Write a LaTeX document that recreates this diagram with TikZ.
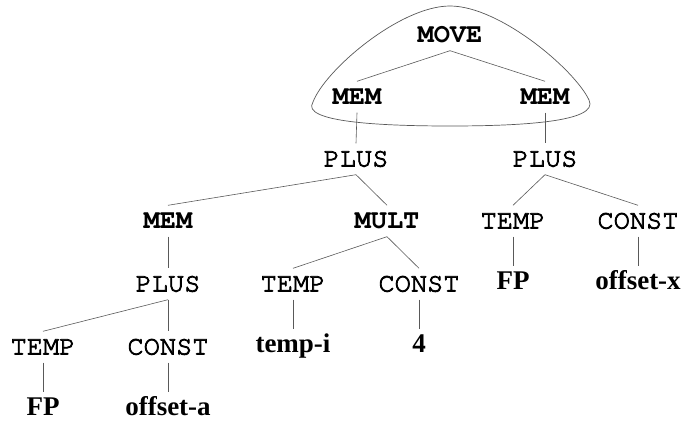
\documentclass[tikz,border=0pt]{standalone}
\usepackage[T1,TU]{fontenc}
\usepackage{fontspec}
\setmainfont{Liberation Serif}
\newcommand\courfam{\fontencoding{T1}\fontfamily{pcr}\selectfont}
\newcommand\heavier{\special{pdf:literal direct 2 Tr 0.8 w}}
\begin{document}
\begin{tikzpicture}[x=1pt,y=-1pt,
  lbl/.style={inner xsep=2pt,inner ysep=8pt,text height=15pt,text depth=0pt,anchor=center,font=\fontsize{27}{30}\selectfont},
  opb/.style={lbl,font=\fontsize{27}{30}\selectfont\courfam\bfseries},
  opr/.style={lbl,font=\fontsize{27}{30}\selectfont\courfam\heavier},
  leaf/.style={lbl,font=\fontsize{27}{30}\selectfont\bfseries},
  edge/.style={draw=black!65,line width=0.6pt},
  blob/.style={draw=black!65,line width=0.7pt}]
\useasboundingbox (0,0) rectangle (686,422);
% nodes
\node[opb] (move) at (450,35) {MOVE};
\node[opb] (mem1) at (357,97) {MEM};
\node[opb] (mem2) at (545,97) {MEM};
\node[opr] (plus1) at (356,159) {PLUS};
\node[opr] (plus2) at (545,159) {PLUS};
\node[opb] (mem3) at (168,221) {MEM};
\node[opb] (mult) at (387,221) {MULT};
\node[opr] (tempr) at (513,221) {TEMP};
\node[opr] (constr) at (638,221) {CONST};
\node[opr] (plus3) at (168,284) {PLUS};
\node[opr] (tempm) at (293,284) {TEMP};
\node[opr] (constm) at (419,284) {CONST};
\node[leaf] (fpr) at (513,282) {FP};
\node[leaf] (offx) at (638,282) {offset-x};
\node[opr] (templ) at (43,347) {TEMP};
\node[opr] (constl) at (168,347) {CONST};
\node[leaf] (tempi) at (293,345) {temp-i};
\node[leaf] (four) at (419,345) {4};
\node[leaf] (fpl) at (43,408) {FP};
\node[leaf] (offa) at (168,408) {offset-a};
% edges
\draw[edge] (move.south) -- (mem1.north);
\draw[edge] (move.south) -- (mem2.north);
\draw[edge] (mem1.south) -- (plus1.north);
\draw[edge] (mem2.south) -- (plus2.north);
\draw[edge] (plus1.south) -- (mem3.north);
\draw[edge] (plus1.south) -- (mult.north);
\draw[edge] (plus2.south) -- (tempr.north);
\draw[edge] (plus2.south) -- (constr.north);
\draw[edge] (mem3.south) -- (plus3.north);
\draw[edge] (mult.south) -- (tempm.north);
\draw[edge] (mult.south) -- (constm.north);
\draw[edge] (tempr.south) -- (fpr.north);
\draw[edge] (constr.south) -- (offx.north);
\draw[edge] (plus3.south) -- (templ.north);
\draw[edge] (plus3.south) -- (constl.north);
\draw[edge] (tempm.south) -- (tempi.north);
\draw[edge] (constm.south) -- (four.north);
\draw[edge] (templ.south) -- (fpl.north);
\draw[edge] (constl.south) -- (offa.north);
% enclosing blob
\draw[blob] (313,102) .. controls (325,70) and (400,6) .. (450,6)
  .. controls (500,6) and (575,70) .. (589,100)
  .. controls (600,122) and (520,126) .. (450,126)
  .. controls (380,126) and (300,122) .. (313,102) -- cycle;
\end{tikzpicture}
\end{document}
